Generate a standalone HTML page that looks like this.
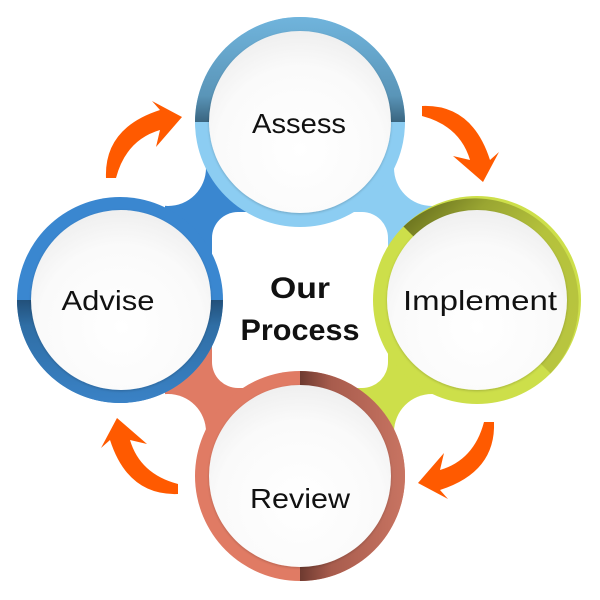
<!DOCTYPE html>
<html><head><meta charset="utf-8"><style>html,body{margin:0;padding:0;background:#fff}svg{display:block}</style></head>
<body>
<svg width="600" height="600" viewBox="0 0 600 600" xmlns="http://www.w3.org/2000/svg">
<defs>
<radialGradient id="wg" cx="50%" cy="65%" r="65%"><stop offset="0" stop-color="#ffffff"/><stop offset="0.7" stop-color="#fafafa"/><stop offset="1" stop-color="#efefef"/></radialGradient>
<linearGradient id="ga" x1="0" y1="0" x2="0" y2="1"><stop offset="0" stop-color="#70b4dc"/><stop offset="0.75" stop-color="#5a95b8"/><stop offset="1" stop-color="#3a6580"/></linearGradient>
<linearGradient id="gv" x1="0" y1="0" x2="0" y2="1"><stop offset="0" stop-color="#22507a"/><stop offset="0.25" stop-color="#2f6ea5"/><stop offset="1" stop-color="#3a82c6"/></linearGradient>
<linearGradient id="gr" x1="0" y1="0" x2="1" y2="0"><stop offset="0" stop-color="#6e3a30"/><stop offset="0.3" stop-color="#a85c4d"/><stop offset="1" stop-color="#c87462"/></linearGradient>
<linearGradient id="gi" x1="0" y1="0" x2="1" y2="1"><stop offset="0" stop-color="#5a6018"/><stop offset="0.25" stop-color="#9aa632"/><stop offset="0.5" stop-color="#b5c23c"/><stop offset="1" stop-color="#b9c640"/></linearGradient>
<filter id="sh" x="-10%" y="-10%" width="120%" height="120%"><feDropShadow dx="0" dy="1" stdDeviation="1.2" flood-color="#000" flood-opacity="0.2"/></filter>
</defs>
<rect x="165" y="165" width="135" height="135" fill="#3a87d0"/>
<rect x="300" y="165" width="135" height="135" fill="#8ccdf2"/>
<rect x="300" y="300" width="135" height="135" fill="#cddf4a"/>
<rect x="165" y="300" width="135" height="135" fill="#e07b64"/>
<circle cx="168" cy="168" r="38" fill="#fff"/>
<circle cx="432" cy="168" r="38" fill="#fff"/>
<circle cx="432" cy="432" r="38" fill="#fff"/>
<circle cx="168" cy="432" r="38" fill="#fff"/>
<rect x="212" y="212" width="176" height="176" rx="26" fill="#fff"/>
<circle cx="300" cy="122" r="105" fill="#8ccdf2"/>
<path d="M195,122 A105,105 0 0 1 405,122 Z" fill="url(#ga)"/>
<circle cx="300" cy="122" r="91" fill="url(#wg)" filter="url(#sh)"/>
<circle cx="477" cy="300" r="104" fill="#cddf4a"/>
<path d="M403.5,226.5 A104,104 0 0 1 550.5,373.5 Z" fill="url(#gi)"/>
<circle cx="477" cy="300" r="90" fill="url(#wg)" filter="url(#sh)"/>
<circle cx="300" cy="476" r="105" fill="#e07b64"/>
<path d="M300,371 A105,105 0 0 1 300,581 Z" fill="url(#gr)"/>
<circle cx="300" cy="476" r="91" fill="url(#wg)" filter="url(#sh)"/>
<circle cx="120" cy="300" r="103" fill="#3a87d0"/>
<path d="M17,300 A103,103 0 0 0 223,300 Z" fill="url(#gv)"/>
<circle cx="121" cy="300" r="90" fill="url(#wg)" filter="url(#sh)"/>
<g fill="#ff5a00">
<path id="ar" d="M106,178 Q104,128 160,110 L152,101 L182,117 L156,147 L160,130 Q126,140 116,178 Z"/>
<use href="#ar" transform="rotate(90 300 300)"/>
<use href="#ar" transform="rotate(180 300 300)"/>
<use href="#ar" transform="rotate(270 300 300)"/>
</g>
<g font-family="'Liberation Sans', sans-serif" fill="#111" text-anchor="middle" font-size="28">
<text x="299" y="133" textLength="94" lengthAdjust="spacingAndGlyphs">Assess</text>
<text x="480" y="310" textLength="154" lengthAdjust="spacingAndGlyphs">Implement</text>
<text x="300" y="508" textLength="100" lengthAdjust="spacingAndGlyphs">Review</text>
<text x="108" y="310" textLength="93" lengthAdjust="spacingAndGlyphs">Advise</text>
<text x="300" y="298" font-weight="bold" font-size="30" textLength="60" lengthAdjust="spacingAndGlyphs">Our</text>
<text x="300" y="340" font-weight="bold" font-size="30" textLength="119" lengthAdjust="spacingAndGlyphs">Process</text>
</g>
</svg>
</body></html>
